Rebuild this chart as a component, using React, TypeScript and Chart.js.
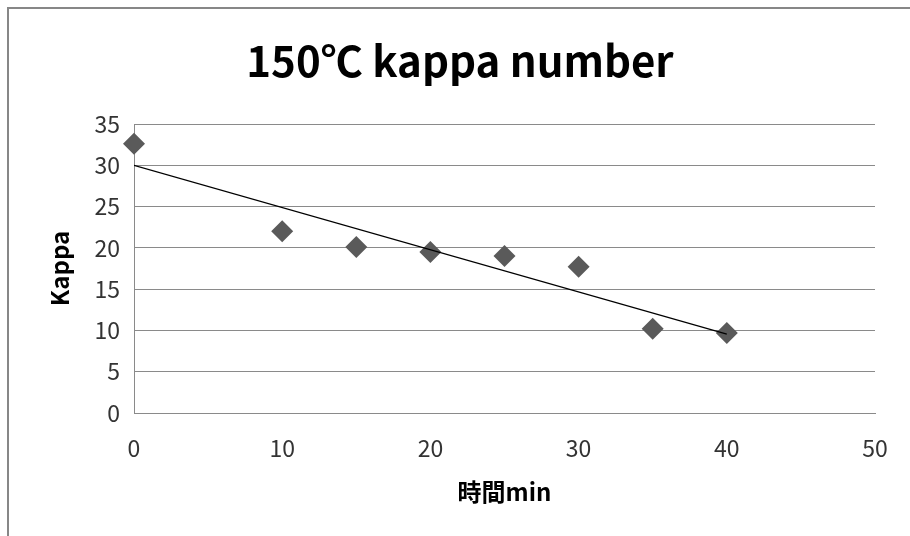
import React, { useEffect, useRef } from "react";
import { Chart, registerables } from "chart.js";

Chart.register(...registerables);

const times = [0, 10, 15, 20, 25, 30, 35, 40];
const kappa = [32.6, 22.0, 20.1, 19.5, 19.0, 17.7, 10.2, 9.7];
const trendX = [0, 40];
const trendY = [30.0, 9.55];
const xTicks = [0, 10, 20, 30, 40, 50];
const yTicks = [0, 5, 10, 15, 20, 25, 30, 35];

const titleText = "150℃ kappa number";
const xTitle = "時間min";
const yTitle = "Kappa";

const FONT = "'Noto Sans CJK JP', 'Noto Sans', sans-serif";

export default function App() {
  const ref = useRef<HTMLCanvasElement>(null);
  useEffect(() => {
    if (!ref.current) return;
    const chart = new Chart(ref.current, {
      type: "scatter",
      data: {
        datasets: [
          {
            label: "Kappa",
            data: times.map((t, i) => ({ x: t, y: kappa[i] })),
            pointStyle: "rectRot",
            pointRadius: 11,
            pointBackgroundColor: "#5a5a5a",
            pointBorderColor: "#5a5a5a",
            pointBorderWidth: 0,
            showLine: false,
            clip: false,
            order: 2,
          },
          {
            label: "trend",
            type: "line",
            data: trendX.map((t, i) => ({ x: t, y: trendY[i] })),
            borderColor: "#000000",
            borderWidth: 1.2,
            pointRadius: 0,
            fill: false,
            order: 1,
          },
        ],
      },
      options: {
        animation: false,
        responsive: false,
        layout: { padding: { left: 36, right: 35, top: 0, bottom: 29.6 } },
        plugins: {
          legend: { display: false },
          tooltip: { enabled: false },
          title: {
            display: true,
            text: titleText,
            color: "#000",
            font: { family: FONT, size: 42, weight: "bold" },
            padding: { top: 27, bottom: 37.6 },
          },
        },
        scales: {
          x: {
            type: "linear",
            min: 0,
            max: 50,
            afterBuildTicks: (axis: any) => {
              axis.ticks = xTicks.map((v) => ({ value: v }));
            },
            afterFit: (axis: any) => {
              axis.height = 93.4;
            },
            grid: { display: false, drawTicks: false },
            border: { display: true, color: "#8a8a8a", width: 1 },
            ticks: {
              color: "#333",
              padding: 21,
              font: { family: FONT, size: 23 },
              maxRotation: 0,
            },
            title: {
              display: true,
              text: xTitle,
              color: "#000",
              font: { family: FONT, size: 24, weight: "bold" },
              padding: { top: 0, bottom: 0 },
            },
          },
          y: {
            type: "linear",
            min: 0,
            max: 35,
            afterBuildTicks: (axis: any) => {
              axis.ticks = yTicks.map((v) => ({ value: v }));
            },
            afterFit: (axis: any) => {
              axis.width = 89;
            },
            grid: { color: "#8a8a8a", lineWidth: 1, drawTicks: false },
            border: { display: true, color: "#8a8a8a", width: 1 },
            ticks: {
              color: "#333",
              padding: 14,
              font: { family: FONT, size: 23 },
            },
            title: {
              display: true,
              text: yTitle,
              color: "#000",
              font: { family: FONT, size: 24, weight: "bold" },
              padding: { top: 0, bottom: 0 },
            },
          },
        },
      },
    });
    return () => chart.destroy();
  }, []);
  return (
    <div
      style={{
        position: "absolute",
        left: 7,
        top: 7,
        borderTop: "2px solid #878787",
        borderLeft: "2px solid #878787",
        width: 901,
        height: 527,
        background: "#fff",
      }}
    >
      <canvas ref={ref} width={901} height={527} style={{ display: "block" }} />
    </div>
  );
}
